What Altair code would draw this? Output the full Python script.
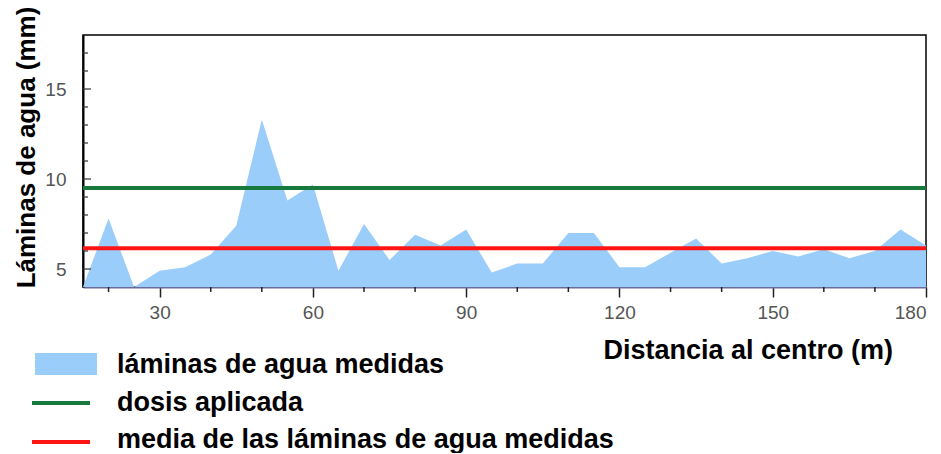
import altair as alt
import pandas as pd

# ---- data ----
distancia = [15, 20, 25, 30, 35, 40, 45, 50, 55, 60, 65, 70, 75, 80, 85, 90,
             95, 100, 105, 110, 115, 120, 125, 130, 135, 140, 145, 150, 155,
             160, 165, 170, 175, 180]
laminas = [4.0, 7.8, 4.0, 4.9, 5.1, 5.8, 7.4, 13.3, 8.8, 9.7, 4.9, 7.5, 5.5,
           6.9, 6.3, 7.2, 4.8, 5.3, 5.3, 7.0, 7.0, 5.1, 5.1, 5.9, 6.7, 5.3,
           5.6, 6.0, 5.7, 6.1, 5.6, 6.0, 7.2, 6.3]
dosis_aplicada = 9.5
media_laminas = 6.15

x_labels = [30, 60, 90, 120, 150, 180]
x_minor = [20, 40, 50, 70, 80, 100, 110, 130, 140, 160, 170]
y_labels = [5, 10, 15]
y_minor = [6, 7, 8, 9, 11, 12, 13, 14, 16, 17]

legend_labels = ["láminas de agua medidas", "dosis aplicada",
                 "media de las láminas de agua medidas"]

BLUE = "#9bcdfb"
GREEN = "#177a3c"
RED = "#ff1414"
FONT = "Liberation Sans"

W, H = 843, 252
xs = alt.Scale(domain=[15, 180], nice=False, zero=False)
ys = alt.Scale(domain=[4, 18], nice=False, zero=False)

x_axis = alt.Axis(
    values=x_labels, tickSize=10, tickColor="#222", tickWidth=1.5,
    labelFont=FONT, labelFontSize=19, labelColor="#555", labelPadding=6,
    domainColor="#6b6b9b", domainWidth=2, grid=False,
    title="Distancia al centro (m)", titleFont=FONT, titleFontSize=27,
    titleFontWeight="bold", titleColor="#000", titleX=520, titleY=71,
    titleAlign="left", titleBaseline="alphabetic")
y_axis = alt.Axis(
    values=y_labels, ticks=False, labelPadding=17,
    labelFont=FONT, labelFontSize=19, labelColor="#555",
    domainColor="#000", domainWidth=2, grid=False,
    title="Láminas de agua (mm)", titleFont=FONT, titleFontSize=26,
    titleFontWeight="bold", titleColor="#000", titleAngle=270,
    titleX=-49, titleY=112, titleAlign="center",
    titleBaseline="alphabetic")

df = pd.DataFrame({"d": distancia, "l": laminas})

area = alt.Chart(df).mark_area(color=BLUE, clip=True).encode(
    x=alt.X("d:Q", scale=xs, axis=x_axis),
    y=alt.Y("l:Q", scale=ys, axis=y_axis),
)

dosis = alt.Chart(pd.DataFrame({"v": [dosis_aplicada]})).mark_rule(
    color=GREEN, strokeWidth=4).encode(y=alt.Y("v:Q", scale=ys, axis=y_axis))
media = alt.Chart(pd.DataFrame({"v": [media_laminas]})).mark_rule(
    color=RED, strokeWidth=4).encode(y=alt.Y("v:Q", scale=ys, axis=y_axis))

ytick_major = alt.Chart(pd.DataFrame({"v": y_labels})).mark_rule(
    color="#333", strokeWidth=1.2).encode(
    y=alt.Y("v:Q", scale=ys, axis=y_axis), x=alt.value(0), x2=alt.value(8))
ytick_minor = alt.Chart(pd.DataFrame({"v": y_minor})).mark_rule(
    color="#333", strokeWidth=1.2).encode(
    y=alt.Y("v:Q", scale=ys, axis=y_axis), x=alt.value(0), x2=alt.value(5))
xtick_minor = alt.Chart(pd.DataFrame({"v": x_minor})).mark_rule(
    color="#222", strokeWidth=1.5).encode(
    x=alt.X("v:Q", scale=xs, axis=x_axis), y=alt.value(H), y2=alt.value(H + 5))

one = pd.DataFrame({"k": [0]})
leg_rect = alt.Chart(one).mark_rect(color=BLUE).encode(
    x=alt.value(-48), x2=alt.value(14), y=alt.value(318), y2=alt.value(340))
leg_green = alt.Chart(one).mark_rule(color=GREEN, strokeWidth=4).encode(
    x=alt.value(-51), x2=alt.value(7), y=alt.value(368))
leg_red = alt.Chart(one).mark_rule(color=RED, strokeWidth=4).encode(
    x=alt.value(-51), x2=alt.value(7), y=alt.value(407))


def leg_text(label, y):
    return alt.Chart(one).mark_text(
        align="left", baseline="alphabetic", font=FONT, fontSize=27,
        fontWeight="bold", color="#000").encode(
        x=alt.value(34), y=alt.value(y), text=alt.value(label))


chart = alt.layer(
    area, dosis, media, ytick_major, ytick_minor, xtick_minor,
    leg_rect, leg_green, leg_red,
    leg_text(legend_labels[0], 338),
    leg_text(legend_labels[1], 376),
    leg_text(legend_labels[2], 413),
).properties(
    width=W, height=H,
    padding={"left": 75, "top": 27, "right": 7, "bottom": 166},
    autosize=alt.AutoSizeParams(type="none"),
).configure_view(stroke="#000", strokeWidth=1.5)

chart.save("out.html", embed_options={"renderer": "svg", "actions": False})
